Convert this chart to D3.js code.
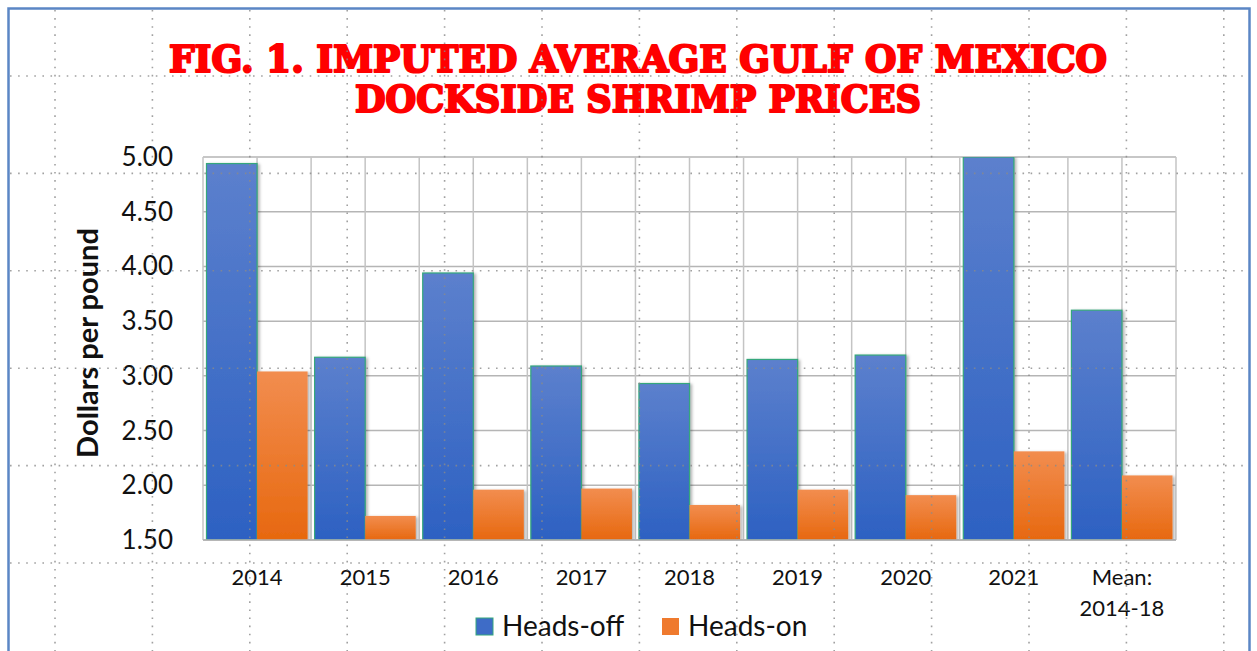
<!DOCTYPE html>
<html>
<head>
<meta charset="utf-8">
<script src="https://cdn.jsdelivr.net/npm/d3@7"></script>
<style>
  body { margin: 0; background: #fff; }
  svg { display: block; }
</style>
</head>
<body>
<div id="container"></div>
<script>
/* CONSTANTS AND GLOBALS */
const width = 1257;
const height = 651;

// data
const categories = ["2014", "2015", "2016", "2017", "2018", "2019", "2020", "2021", "Mean:\n2014-18"];
const series = ["Heads-off", "Heads-on"];
const headsOff = [4.94, 3.17, 3.94, 3.09, 2.93, 3.15, 3.19, 5.30, 3.60];
const headsOn = [3.04, 1.72, 1.96, 1.97, 1.82, 1.96, 1.91, 2.31, 2.09];
const yTicks = [1.5, 2.0, 2.5, 3.0, 3.5, 4.0, 4.5, 5.0];
const titleLines = ["FIG. 1. IMPUTED AVERAGE GULF OF MEXICO", "DOCKSIDE SHRIMP PRICES"];

const plot = { left: 203, right: 1176, top: 157, bottom: 540 };
const labelFont = "Lato, 'Open Sans', sans-serif";

const svg = d3.select("#container")
  .append("svg")
  .attr("width", width)
  .attr("height", height);

const defs = svg.append("defs");
const gBlue = defs.append("linearGradient").attr("id", "gBlue").attr("x1", 0).attr("y1", 0).attr("x2", 0).attr("y2", 1);
gBlue.append("stop").attr("offset", "0%").attr("stop-color", "#5c80cd");
gBlue.append("stop").attr("offset", "100%").attr("stop-color", "#2d61c2");
const gOrange = defs.append("linearGradient").attr("id", "gOrange").attr("x1", 0).attr("y1", 0).attr("x2", 0).attr("y2", 1);
gOrange.append("stop").attr("offset", "0%").attr("stop-color", "#f28d4f");
gOrange.append("stop").attr("offset", "100%").attr("stop-color", "#e7680f");
defs.append("filter").attr("id", "shadow").attr("x", "-20%").attr("y", "-5%").attr("width", "150%").attr("height", "115%")
  .append("feDropShadow").attr("dx", 2).attr("dy", 1).attr("stdDeviation", 1.5)
  .attr("flood-color", "#000").attr("flood-opacity", 0.3);
defs.append("clipPath").attr("id", "plotClip")
  .append("rect").attr("x", plot.left).attr("y", plot.top)
  .attr("width", plot.right - plot.left).attr("height", plot.bottom - plot.top);

/* SCALES */
const xScale = d3.scaleBand()
  .domain(categories)
  .range([plot.left, plot.right]);

const xInner = d3.scaleBand()
  .domain(series)
  .range([3.5, xScale.bandwidth() - 3.5]);

const yScale = d3.scaleLinear()
  .domain([1.5, 5])
  .range([plot.bottom, plot.top])
  .clamp(true);

const colorScale = d3.scaleOrdinal().domain(series).range(["url(#gBlue)", "url(#gOrange)"]);
const legendColor = d3.scaleOrdinal().domain(series).range(["#3e6cc7", "#ef7a2e"]);

// blue frame of the slide
svg.append("rect")
  .attr("x", 8.5).attr("y", 8.5)
  .attr("width", 1241).attr("height", 660)
  .attr("fill", "none").attr("stroke", "#5b86c5").attr("stroke-width", 2.5);

// title
svg.selectAll("text.title")
  .data(titleLines)
  .join("text")
  .attr("class", "title")
  .attr("x", 638)
  .attr("y", (d, i) => 72 + i * 40)
  .attr("text-anchor", "middle")
  .attr("textLength", (d, i) => i === 0 ? 938 : 566)
  .attr("lengthAdjust", "spacingAndGlyphs")
  .style("font-family", "'DejaVu Serif', serif")
  .style("font-weight", "bold")
  .style("font-size", "37px")
  .style("fill", "#ff0000")
  .style("stroke", "#ff0000")
  .style("stroke-width", "2.2px")
  .style("stroke-linejoin", "round")
  .text(d => d);

/* GRIDLINES */
const grid = svg.append("g");
grid.selectAll("line.h")
  .data(yTicks)
  .join("line")
  .attr("class", "h")
  .attr("x1", plot.left).attr("x2", plot.right)
  .attr("y1", d => yScale(d)).attr("y2", d => yScale(d))
  .attr("stroke", "#b5b5b5").attr("stroke-width", 1.5);

const vLines = [];
categories.forEach(c => {
  vLines.push(xScale(c));
  vLines.push(xScale(c) + xScale.bandwidth() / 2);
});
vLines.push(plot.right);
grid.selectAll("line.v")
  .data(vLines)
  .join("line")
  .attr("class", "v")
  .attr("x1", d => d).attr("x2", d => d)
  .attr("y1", plot.top).attr("y2", plot.bottom)
  .attr("stroke", "#c4c4c4").attr("stroke-width", 1.5);

/* BARS */
const rows = categories.map((c, i) => ({ cat: c, values: [
  { key: "Heads-off", value: headsOff[i] },
  { key: "Heads-on", value: headsOn[i] }
]}));

const groups = svg.append("g")
  .attr("clip-path", "url(#plotClip)")
  .selectAll("g")
  .data(rows)
  .join("g")
  .attr("transform", d => `translate(${xScale(d.cat)},0)`);

groups.selectAll("rect")
  .data(d => d.values)
  .join("rect")
  .attr("x", d => xInner(d.key))
  .attr("y", d => yScale(d.value))
  .attr("width", xInner.bandwidth())
  .attr("height", d => plot.bottom - yScale(d.value))
  .attr("fill", d => colorScale(d.key))
  .attr("stroke", d => d.key === "Heads-off" ? "#35a77c" : "none")
  .attr("stroke-width", 1.2)
  .attr("filter", "url(#shadow)");

// bottom axis line
svg.append("line")
  .attr("x1", plot.left).attr("x2", plot.right)
  .attr("y1", plot.bottom).attr("y2", plot.bottom)
  .attr("stroke", "#b0b0b0").attr("stroke-width", 1.5);

/* AXES LABELS */
svg.selectAll("text.ytick")
  .data(yTicks)
  .join("text")
  .attr("class", "ytick")
  .attr("x", 173)
  .attr("y", d => yScale(d) + 9)
  .attr("text-anchor", "end")
  .style("font-family", labelFont)
  .style("font-size", "26px")
  .style("fill", "#111")
  .text(d => d3.format(".2f")(d));

const xLab = svg.selectAll("text.xtick")
  .data(categories)
  .join("text")
  .attr("class", "xtick")
  .attr("x", d => xScale(d) + xScale.bandwidth() / 2)
  .attr("y", 585)
  .attr("text-anchor", "middle")
  .style("font-family", labelFont)
  .style("font-size", "22px")
  .style("fill", "#111");
xLab.selectAll("tspan")
  .data(d => d.split("\n"))
  .join("tspan")
  .attr("x", function () { return d3.select(this.parentNode).attr("x"); })
  .attr("dy", (d, i) => i === 0 ? 0 : 31)
  .text(d => d);

svg.append("text")
  .attr("transform", "translate(98,343) rotate(-90)")
  .attr("text-anchor", "middle")
  .style("font-family", labelFont)
  .style("font-weight", "bold")
  .style("font-size", "29px")
  .style("fill", "#111")
  .text("Dollars per pound");

/* LEGEND */
const legendX = [476, 662];
const legend = svg.selectAll("g.legend")
  .data(series)
  .join("g")
  .attr("class", "legend")
  .attr("transform", (d, i) => `translate(${legendX[i]},618)`);
legend.append("rect")
  .attr("width", 17).attr("height", 17)
  .attr("fill", d => legendColor(d))
  .attr("stroke", d => d === "Heads-off" ? "#35a77c" : "none")
  .attr("stroke-width", 1);
legend.append("text")
  .attr("x", 26).attr("y", 18)
  .style("font-family", labelFont)
  .style("font-size", "28px")
  .style("fill", "#111")
  .text(d => d);

/* DOTTED SLIDE GRID (drawn over everything) */
const dotX = d3.range(0, 13).map(i => 55 + i * 97.4);
const dotY = d3.range(0, 6).map(i => 76 + i * 97.4);
const dots = svg.append("g")
  .attr("stroke", "#8a8a8a").attr("stroke-width", 1.6)
  .attr("stroke-dasharray", "1.6,6.5").attr("opacity", 0.8);
dots.selectAll("line.dv")
  .data(dotX)
  .join("line")
  .attr("class", "dv")
  .attr("x1", d => d).attr("x2", d => d)
  .attr("y1", 10).attr("y2", height);
dots.selectAll("line.dh")
  .data(dotY)
  .join("line")
  .attr("class", "dh")
  .attr("x1", 10).attr("x2", 1248)
  .attr("y1", d => d).attr("y2", d => d);
</script>
</body>
</html>
